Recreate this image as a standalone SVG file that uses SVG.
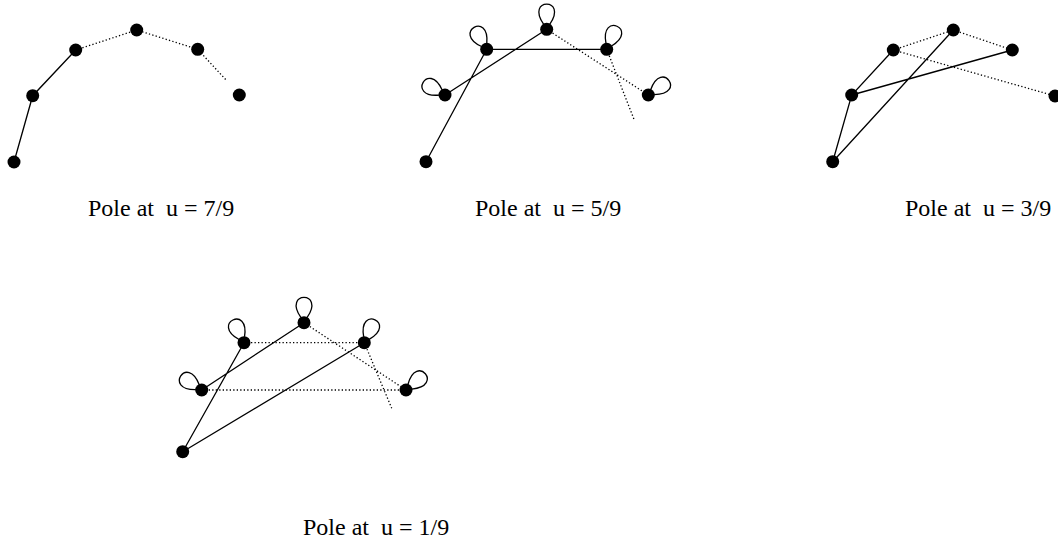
<svg xmlns="http://www.w3.org/2000/svg" xmlns:xlink="http://www.w3.org/1999/xlink" width="1058" height="542" viewBox="0 0 1058 542">
<style>
.s{stroke:#000;stroke-width:1.3;fill:none}
.d{stroke:#000;stroke-width:1.3;fill:none;stroke-dasharray:1.3 2.2}
.n{fill:#000}
.lp{stroke:#000;stroke-width:1.3;fill:none}
.t{font-family:"Liberation Serif","Times New Roman",serif;font-size:24px;fill:#000;white-space:pre}
</style>
<defs>
<path id="loop" d="M -3,-5 C -22,-32 22,-32 3,-5"/>
</defs>
<rect width="1058" height="542" fill="#fff"/>

<g id="connectors">
<!-- panel 1 -->
<path class="s" d="M14,162 L32.7,95.7 L75.7,50"/>
<path class="d" d="M75.7,50 L136.7,30 L197.7,49.3 L227,81"/>
<!-- panel 2 -->
<path class="s" d="M426,161.7 L486.7,49.3 M445,95 L546.7,29.3 M486.7,49.3 L606.7,49.3"/>
<path class="d" d="M546.7,29.3 L648.3,95 M606.7,49.3 L634,119.3"/>
<!-- panel 3 -->
<path class="s" d="M832.7,161.7 L851.7,95 L893.3,50 M832.7,161.7 L953.3,30 M851.7,95 L1012.3,50"/>
<path class="d" d="M893.3,50 L953.3,30 L1012.3,50 M893.3,50 L1055,96"/>
<!-- panel 4 -->
<path class="s" d="M182.7,451.7 L244,342.7 M201.7,390 L304,322.7 M182.7,451.7 L364.3,342.7"/>
<path class="d" d="M244,342.7 L364.3,342.7 M201.7,390 L406,390 M304,322.7 L406,390 M364.3,342.7 L391.7,408.3"/>
</g>

<g id="panel1">
<g id="p1-n1"><circle class="n" cx="14" cy="162" r="6.5"/></g>
<g id="p1-n2"><circle class="n" cx="32.7" cy="95.7" r="6.5"/></g>
<g id="p1-n3"><circle class="n" cx="75.7" cy="50" r="6.5"/></g>
<g id="p1-n4"><circle class="n" cx="136.7" cy="30" r="6.5"/></g>
<g id="p1-n5"><circle class="n" cx="197.7" cy="49.3" r="6.5"/></g>
<g id="p1-n6"><circle class="n" cx="239.3" cy="95" r="6.5"/></g>
<text id="p1-label" class="t" x="88" y="216">Pole at  u = 7/9</text>
</g>

<g id="panel2">
<g id="p2-n1"><circle class="n" cx="426" cy="161.7" r="6.5"/></g>
<g id="p2-n2"><use href="#loop" xlink:href="#loop" class="lp" transform="translate(445,95) rotate(-60)"/><circle class="n" cx="445" cy="95" r="6.5"/></g>
<g id="p2-n3"><use href="#loop" xlink:href="#loop" class="lp" transform="translate(486.7,49.3) rotate(-30)"/><circle class="n" cx="486.7" cy="49.3" r="6.5"/></g>
<g id="p2-n4"><use href="#loop" xlink:href="#loop" class="lp" transform="translate(546.7,29.3)"/><circle class="n" cx="546.7" cy="29.3" r="6.5"/></g>
<g id="p2-n5"><use href="#loop" xlink:href="#loop" class="lp" transform="translate(606.7,49.3) rotate(24)"/><circle class="n" cx="606.7" cy="49.3" r="6.5"/></g>
<g id="p2-n6"><use href="#loop" xlink:href="#loop" class="lp" transform="translate(648.3,95) rotate(55)"/><circle class="n" cx="648.3" cy="95" r="6.5"/></g>
<text id="p2-label" class="t" x="475" y="216">Pole at  u = 5/9</text>
</g>

<g id="panel3">
<g id="p3-n1"><circle class="n" cx="832.7" cy="161.7" r="6.5"/></g>
<g id="p3-n2"><circle class="n" cx="851.7" cy="95" r="6.5"/></g>
<g id="p3-n3"><circle class="n" cx="893.3" cy="50" r="6.5"/></g>
<g id="p3-n4"><circle class="n" cx="953.3" cy="30" r="6.5"/></g>
<g id="p3-n5"><circle class="n" cx="1012.3" cy="50" r="6.5"/></g>
<g id="p3-n6"><circle class="n" cx="1055" cy="96" r="6.5"/></g>
<text id="p3-label" class="t" x="905" y="216">Pole at  u = 3/9</text>
</g>

<g id="panel4">
<g id="p4-n1"><circle class="n" cx="182.7" cy="451.7" r="6.5"/></g>
<g id="p4-n2"><use href="#loop" xlink:href="#loop" class="lp" transform="translate(201.7,390) rotate(-56)"/><circle class="n" cx="201.7" cy="390" r="6.5"/></g>
<g id="p4-n3"><use href="#loop" xlink:href="#loop" class="lp" transform="translate(244,342.7) rotate(-26)"/><circle class="n" cx="244" cy="342.7" r="6.5"/></g>
<g id="p4-n4"><use href="#loop" xlink:href="#loop" class="lp" transform="translate(304,322.7)"/><circle class="n" cx="304" cy="322.7" r="6.5"/></g>
<g id="p4-n5"><use href="#loop" xlink:href="#loop" class="lp" transform="translate(364.3,342.7) rotate(25)"/><circle class="n" cx="364.3" cy="342.7" r="6.5"/></g>
<g id="p4-n6"><use href="#loop" xlink:href="#loop" class="lp" transform="translate(406,390) rotate(50)"/><circle class="n" cx="406" cy="390" r="6.5"/></g>
<text id="p4-label" class="t" x="303" y="535">Pole at  u = 1/9</text>
</g>
</svg>
